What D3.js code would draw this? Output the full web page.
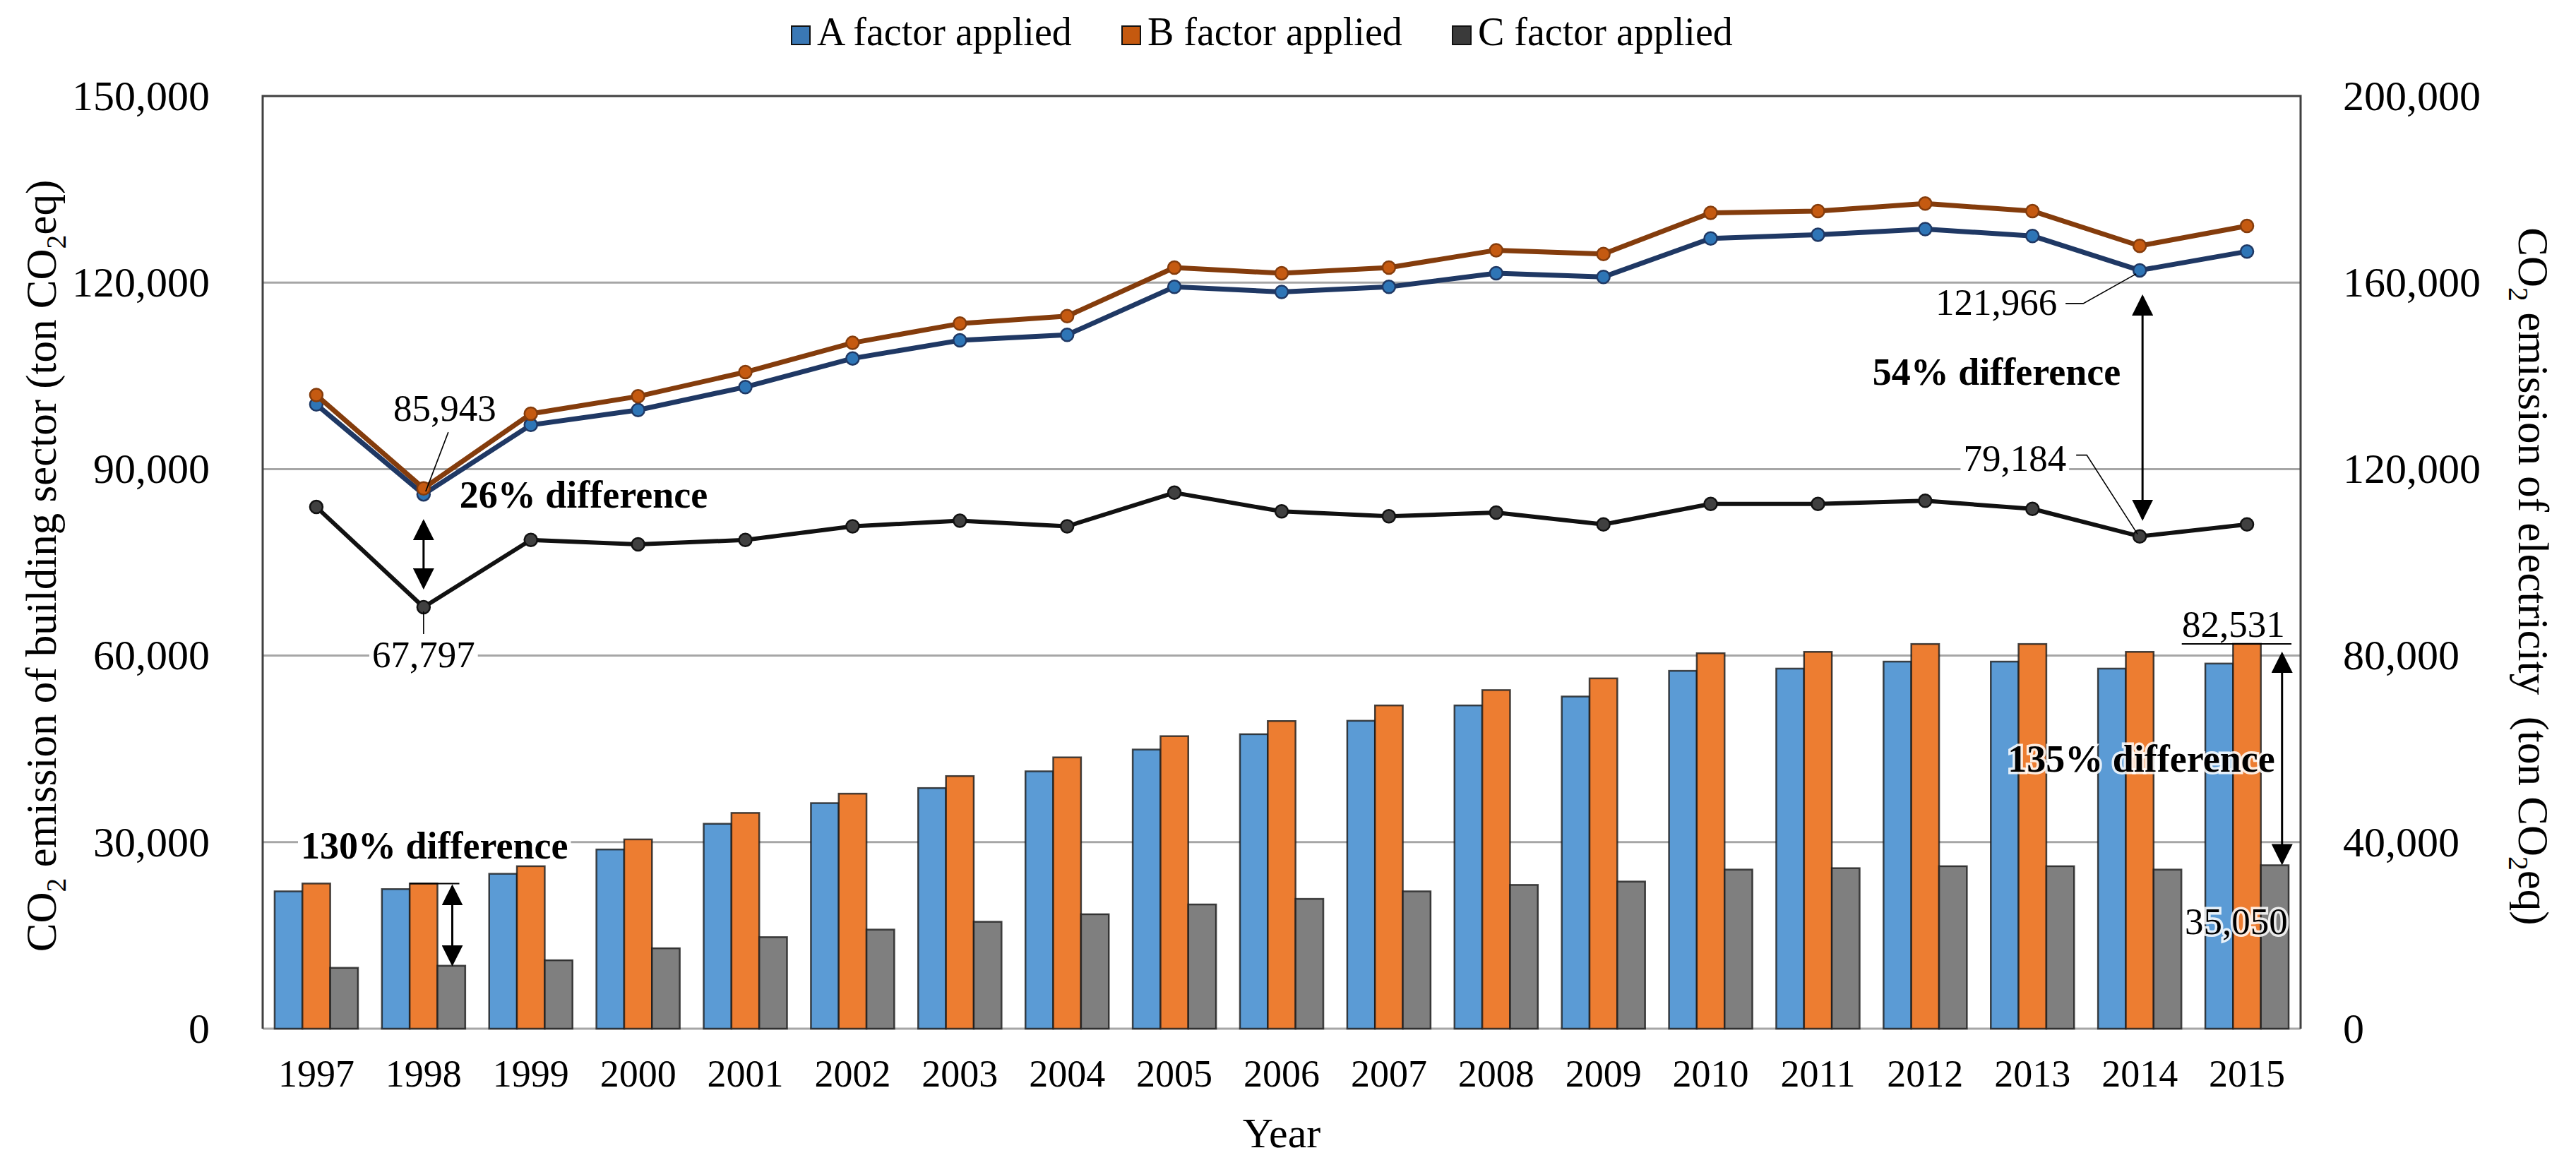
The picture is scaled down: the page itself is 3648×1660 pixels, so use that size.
<!DOCTYPE html>
<html>
<head>
<meta charset="utf-8">
<script src="https://cdn.jsdelivr.net/npm/d3@7"></script>
<style>
  html, body { margin: 0; padding: 0; background: #fff; }
  svg text { font-family: "Liberation Serif", "Times New Roman", serif; fill: #000; }
</style>
</head>
<body>
<div id="chart"></div>
<script>
// --- Data ---
const years = ["1997", "1998", "1999", "2000", "2001", "2002", "2003", "2004", "2005", "2006",
  "2007", "2008", "2009", "2010", "2011", "2012", "2013", "2014", "2015"];

// bars, right axis (CO2 emission of electricity)
const barA = [29450, 29930, 33220, 38430, 43940, 48370, 51600, 55190, 59860, 63150,
  66030, 69320, 71230, 76740, 77220, 78720, 78720, 77220, 78300];
const barB = [31130, 31130, 34840, 40590, 46270, 50400, 54170, 58180, 62730, 65970,
  69320, 72610, 75120, 80510, 80810, 82490, 82490, 80810, 82531];
const barC = [13050, 13500, 14670, 17240, 19630, 21250, 22930, 24540, 26640, 27840,
  29450, 30830, 31550, 34120, 34420, 34840, 34840, 34120, 35050];

// lines, left axis (CO2 emission of building sector)
const lineA = [100400, 85943, 97100, 99500, 103200, 107800, 110700, 111600, 119300, 118500,
  119300, 121500, 120900, 127100, 127700, 128600, 127500, 121966, 125000];
const lineB = [101900, 86900, 98900, 101700, 105600, 110300, 113400, 114600, 122400, 121500,
  122400, 125200, 124600, 131200, 131500, 132700, 131500, 125900, 129100];
const lineC = [83900, 67797, 78600, 77900, 78600, 80800, 81700, 80800, 86200, 83200,
  82400, 83000, 81100, 84400, 84400, 84900, 83600, 79184, 81100];

const leftTicks = [0, 30000, 60000, 90000, 120000, 150000];
const rightTicks = [0, 40000, 80000, 120000, 160000, 200000];
const seriesNames = ["A factor applied", "B factor applied", "C factor applied"];

// --- Layout & colours ---
const W = 3648, H = 1660;
const margin = { top: 136, right: 390, bottom: 203, left: 372 };
const plotR = W - margin.right, plotB = H - margin.bottom;

const barFill = ["#5B9BD5", "#ED7D31", "#7F7F7F"];
const legendFill = ["#3A78B5", "#C5590F", "#3A3A3A"];
const lineStroke = ["#1F3864", "#843C0C", "#111111"];
const markerFill = ["#2E75B6", "#C55A11", "#404040"];
const gridColor = "#A6A6A6";
const fmt = d3.format(",");

const svg = d3.select("#chart").append("svg")
  .attr("width", W).attr("height", H)
  .attr("viewBox", `0 0 ${W} ${H}`);

const defs = svg.append("defs");
defs.append("marker")
  .attr("id", "head")
  .attr("viewBox", "0 0 10 10")
  .attr("refX", 9).attr("refY", 5)
  .attr("markerWidth", 9).attr("markerHeight", 9)
  .attr("markerUnits", "userSpaceOnUse")
  .attr("orient", "auto-start-reverse")
  .append("path").attr("d", "M0,0 L10,5 L0,10 Z").attr("fill", "#000");
// marker size in user units is set on use via scale below
defs.select("#head").attr("markerWidth", 30).attr("markerHeight", 30);

// Scales
const x = d3.scaleBand()
  .domain(years)
  .range([margin.left, plotR])
  .paddingInner(0.223)
  .paddingOuter(0.1115);

const xSub = d3.scaleBand()
  .domain([0, 1, 2])
  .range([0, x.bandwidth()]);

const cx = d => x(d) + x.bandwidth() / 2;

const yL = d3.scaleLinear().domain([0, 150000]).range([plotB, margin.top]);
const yR = d3.scaleLinear().domain([0, 200000]).range([plotB, margin.top]);

// Gridlines
svg.append("g").attr("class", "grid")
  .selectAll("line")
  .data(leftTicks.slice(0, -1))
  .enter().append("line")
  .attr("x1", margin.left).attr("x2", plotR)
  .attr("y1", d => yL(d)).attr("y2", d => yL(d))
  .attr("stroke", gridColor)
  .attr("stroke-width", 3);

// Plot frame (left, top, right)
svg.append("path")
  .attr("d", `M${margin.left},${plotB} V${yL(150000)} H${plotR} V${plotB}`)
  .attr("fill", "none")
  .attr("stroke", "#404040")
  .attr("stroke-width", 3);

// Bars
const barSeries = [barA, barB, barC];
svg.append("g").attr("class", "bars")
  .selectAll("g")
  .data(barSeries)
  .enter().append("g")
  .attr("fill", (_, i) => barFill[i])
  .each(function (vals, si) {
    d3.select(this).selectAll("rect")
      .data(vals)
      .enter().append("rect")
      .attr("x", (_, j) => x(years[j]) + xSub(si))
      .attr("y", d => yR(d))
      .attr("width", xSub.bandwidth())
      .attr("height", d => plotB - yR(d))
      .attr("stroke", "#1a1a1a")
      .attr("stroke-opacity", 0.8)
      .attr("stroke-width", 2.5);
  });

// Lines + markers
const lineSeries = [lineC, lineA, lineB];
const lineIdx = [2, 0, 1];
const lineGen = d3.line().x((_, j) => cx(years[j])).y(d => yL(d));

lineSeries.forEach((vals, k) => {
  const i = lineIdx[k];
  const g = svg.append("g").attr("class", "series-line");
  g.append("path")
    .datum(vals)
    .attr("d", lineGen)
    .attr("fill", "none")
    .attr("stroke", lineStroke[i])
    .attr("stroke-width", i === 2 ? 6 : 7)
    .attr("stroke-linejoin", "round");
  g.selectAll("circle")
    .data(vals)
    .enter().append("circle")
    .attr("cx", (_, j) => cx(years[j]))
    .attr("cy", d => yL(d))
    .attr("r", 9)
    .attr("fill", markerFill[i])
    .attr("stroke", lineStroke[i])
    .attr("stroke-width", 2.5);
});

// Axes
const leftAxis = svg.append("g")
  .attr("transform", `translate(${margin.left},0)`)
  .call(d3.axisLeft(yL).tickValues(leftTicks).tickSize(0).tickPadding(75).tickFormat(fmt));

const rightAxis = svg.append("g")
  .attr("transform", `translate(${plotR},0)`)
  .call(d3.axisRight(yR).tickValues(rightTicks).tickSize(0).tickPadding(60).tickFormat(fmt));

const bottomAxis = svg.append("g")
  .attr("transform", `translate(0,${plotB})`)
  .call(d3.axisBottom(x).tickSize(0).tickPadding(44));

[leftAxis, rightAxis, bottomAxis].forEach(a => {
  a.select(".domain").remove();
  a.attr("font-family", null).attr("font-size", null);
});
leftAxis.selectAll("text").attr("font-size", 60);
rightAxis.selectAll("text").attr("font-size", 60);
bottomAxis.selectAll("text").attr("font-size", 54);

// Axis titles
svg.append("text")
  .attr("x", (margin.left + plotR) / 2)
  .attr("y", 1625)
  .attr("text-anchor", "middle")
  .attr("font-size", 60)
  .text("Year");

function co2Title(sel, before, after) {
  sel.append("tspan").text("CO");
  sel.append("tspan").attr("baseline-shift", "sub").attr("font-size", "0.65em").text("2");
  sel.append("tspan").text(before);
  sel.append("tspan").attr("baseline-shift", "sub").attr("font-size", "0.65em").text("2");
  sel.append("tspan").text(after);
}

const midY = (margin.top + plotB) / 2;
co2Title(svg.append("text")
  .attr("transform", `translate(58,${midY + 5}) rotate(-90)`)
  .attr("text-anchor", "middle")
  .attr("dominant-baseline", "central")
  .attr("font-size", 61),
  " emission of building sector (ton CO", "eq)");

co2Title(svg.append("text")
  .attr("transform", `translate(3588,${midY + 20}) rotate(90)`)
  .attr("text-anchor", "middle")
  .attr("dominant-baseline", "central")
  .attr("font-size", 61),
  " emission of electricity  (ton CO", "eq)")
  ;
svg.selectAll("text").style("white-space", "pre");

// Legend
const legend = svg.append("g").attr("class", "legend")
  .selectAll("g")
  .data(seriesNames)
  .enter().append("g")
  .attr("transform", (_, i) => `translate(${1121 + i * 468},0)`);

legend.append("rect")
  .attr("x", 0).attr("y", 37)
  .attr("width", 26).attr("height", 26)
  .attr("fill", (_, i) => legendFill[i])
  .attr("stroke", "#111")
  .attr("stroke-width", 2);

legend.append("text")
  .attr("x", 36).attr("y", 64)
  .attr("font-size", 56)
  .text(d => d);

// --- Annotations ---
const ann = svg.append("g").attr("class", "annotations");

function note(tx, ty, str, opts = {}) {
  const t = ann.append("text")
    .attr("x", tx).attr("y", ty)
    .attr("font-size", opts.size || 53)
    .attr("font-weight", opts.bold ? "bold" : null)
    .attr("text-anchor", opts.anchor || "start")
    .text(str);
  if (opts.bg) {
    const b = t.node().getBBox();
    ann.insert("rect", () => t.node())
      .attr("x", b.x - 4).attr("y", b.y + 4)
      .attr("width", b.width + 8).attr("height", b.height - 8)
      .attr("fill", "#fff");
  }
  if (opts.halo) {
    t.attr("stroke", "#fff").attr("stroke-width", 7)
      .attr("stroke-opacity", 0.85)
      .attr("paint-order", "stroke");
  }
  return t;
}

function leader(pts) {
  ann.append("path")
    .attr("d", d3.line()(pts))
    .attr("fill", "none")
    .attr("stroke", "#000")
    .attr("stroke-width", 1.6);
}

function dblArrow(ax, y1, y2) {
  ann.append("line")
    .attr("x1", ax).attr("x2", ax)
    .attr("y1", y1).attr("y2", y2)
    .attr("stroke", "#000")
    .attr("stroke-width", 3)
    .attr("marker-start", "url(#head)")
    .attr("marker-end", "url(#head)");
}

// 1998 lines
const x98 = cx("1998");
note(x98 + 30, yL(lineA[1]) - 104, fmt(lineA[1]), { anchor: "middle" });
leader([[x98 + 35, yL(lineA[1]) - 88], [x98 + 3, yL(lineA[1]) - 4]]);
note(x98 + 51, yL(lineA[1]) + 19, "26% difference", { bold: true, size: 54 });
dblArrow(x98, yL(lineA[1]) + 38, yL(lineC[1]) - 28);
leader([[x98, yL(lineC[1]) + 6], [x98, yL(lineC[1]) + 38]]);
note(x98, yL(lineC[1]) + 85, fmt(lineC[1]), { anchor: "middle", bg: true });

// 2014 lines
const x14 = cx("2014");
note(x14 - 117, yL(lineA[17]) + 63, fmt(lineA[17]), { anchor: "end" });
leader([[x14 - 105, yL(lineA[17]) + 47], [x14 - 80, yL(lineA[17]) + 47], [x14 - 5, yL(lineA[17]) + 5]]);
note(x14 - 27, yL(lineA[17]) + 162, "54% difference", { bold: true, size: 54, anchor: "end" });
dblArrow(x14 + 4, yL(lineA[17]) + 37, yL(lineC[17]) - 25);
note(x14 - 104, yL(lineC[17]) - 93, fmt(lineC[17]), { anchor: "end", bg: true });
leader([[x14 - 90, yL(lineC[17]) - 115], [x14 - 75, yL(lineC[17]) - 115], [x14 - 3, yL(lineC[17]) - 3]]);

// 1998 bars
const b98 = x("1998") + xSub(1);
ann.append("line")
  .attr("x1", b98).attr("x2", b98 + xSub.bandwidth() + 31)
  .attr("y1", yR(barB[1])).attr("y2", yR(barB[1]))
  .attr("stroke", "#000").attr("stroke-width", 2);
dblArrow(b98 + xSub.bandwidth() + 21, yR(barB[1]) + 4, yR(barC[1]) - 2);
note(426, yR(barB[1]) - 35, "130% difference", { bold: true, size: 54, bg: true });

// 2015 bars
const c15 = x("2015") + xSub(2);
ann.append("line")
  .attr("x1", c15 - 112).attr("x2", c15 + xSub.bandwidth() + 4)
  .attr("y1", yR(barB[18])).attr("y2", yR(barB[18]))
  .attr("stroke", "#000").attr("stroke-width", 2);
note(c15 + 34, yR(barB[18]) - 10, fmt(barB[18]), { anchor: "end" });
dblArrow(c15 + 30, yR(barB[18]) + 14, yR(barC[18]) - 3);
note(c15 + 20, yR(barB[18]) + 181, "135% difference", { bold: true, size: 54, anchor: "end", halo: true });
note(c15 + 38, yR(barC[18]) + 98, fmt(barC[18]), { anchor: "end", halo: true });
</script>
</body>
</html>
